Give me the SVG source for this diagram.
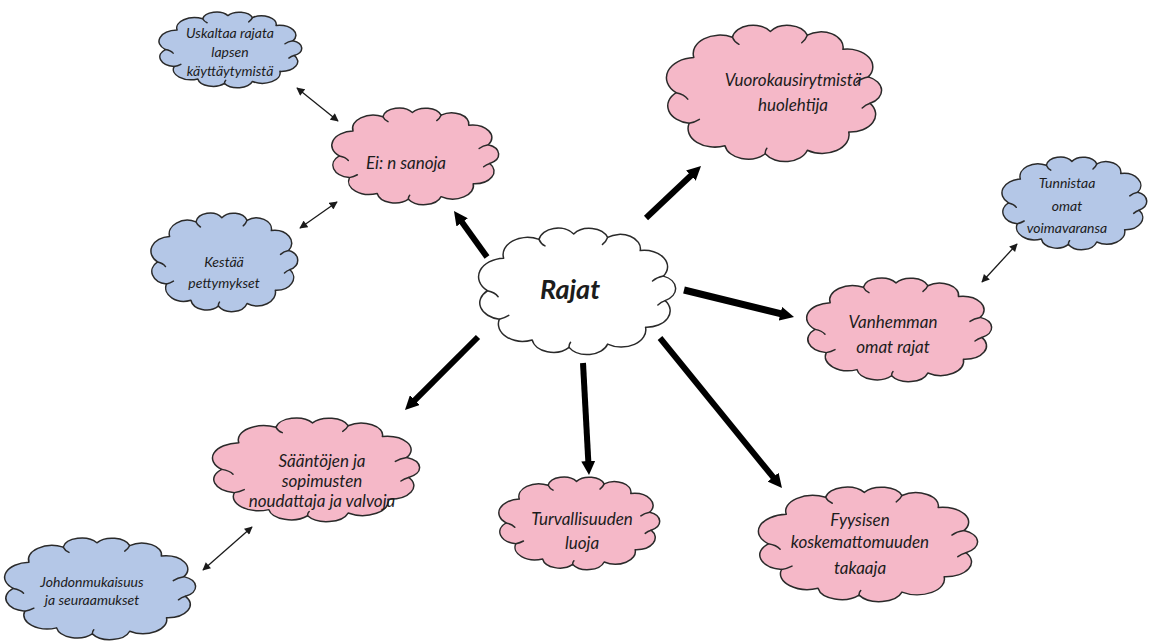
<svg xmlns="http://www.w3.org/2000/svg" xmlns:xlink="http://www.w3.org/1999/xlink" width="1157" height="643" viewBox="0 0 1157 643">
<style>
.cl{stroke:#2a2a2a;stroke-width:1.5;vector-effect:non-scaling-stroke;stroke-linejoin:round}
.curl{fill:none;stroke:#2a2a2a;stroke-width:1.5;vector-effect:non-scaling-stroke;stroke-linecap:round}
.pink{fill:#f5b8c8}
.blue{fill:#b4c7e7}
.white{fill:#ffffff}
text{font-family:Lato,"Open Sans","Liberation Sans",sans-serif;font-style:italic;fill:#1c1c1c;text-anchor:middle}
.s{font-size:14px}
.m{font-size:17px}
.big{font-size:27px;font-weight:bold}
.thick{stroke:#000;stroke-width:6;fill:none;marker-end:url(#ah)}
.thin{stroke:#1a1a1a;stroke-width:1.3;fill:none;marker-start:url(#sh);marker-end:url(#sh)}
</style>
<defs>
<g id="cloud">
<path class="cl" d="M8,52 A12.5,12.5 0 0 1 15.6,30.2 A11.5,11.5 0 0 1 32.2,17.6 A9,9 0 0 1 48.5,14 A9,9 0 0 1 64.4,16.3 A9.5,9.5 0 0 1 79.7,25.1 A11,11 0 0 1 90.6,42.2 A9,9 0 0 1 91.4,58.6 A11,11 0 0 1 82.2,76.4 A11.5,11.5 0 0 1 64.4,87.7 A10,10 0 0 1 46.3,89.9 A10,10 0 0 1 29,84.9 A11.5,11.5 0 0 1 13.6,71 A11,11 0 0 1 8,52 Z"/>
<path class="curl" d="M8,52 Q11.5,53 13,56 M32.2,17.6 Q33,20.5 35,22 M64.4,16.3 Q63.7,19 62,21 M90.6,42.2 Q87.5,43 85.5,45.5 M91.4,58.6 Q89.5,59.5 88,61.5 M46.3,89.9 Q46.2,88 47,86.5 M13.6,71 Q16,70.3 18,68.5"/>
</g>
<marker id="ah" viewBox="0 0 10 10" refX="3" refY="5" markerWidth="14" markerHeight="14" markerUnits="userSpaceOnUse" orient="auto">
<path d="M0,0 L10,5 L0,10 Z" fill="#000"/>
</marker>
<marker id="sh" viewBox="0 0 10 10" refX="9" refY="5" markerWidth="9" markerHeight="8" markerUnits="userSpaceOnUse" orient="auto-start-reverse">
<path d="M0,0 L10,5 L0,10 Z" fill="#1a1a1a"/>
</marker>
</defs>

<g id="connectors">
<line class="thick" x1="487" y1="257" x2="459.7" y2="219"/>
<line class="thick" x1="646" y1="218" x2="693.9" y2="172.7"/>
<line class="thick" x1="684" y1="290" x2="784.5" y2="314.7" style="stroke-width:7"/>
<line class="thick" x1="478" y1="337" x2="411.9" y2="403.1"/>
<line class="thick" x1="583" y1="363" x2="588.5" y2="465.2"/>
<line class="thick" x1="660" y1="338" x2="775.8" y2="480.4"/>
<line class="thin" x1="297" y1="88" x2="338" y2="121"/>
<line class="thin" x1="300" y1="228" x2="337" y2="202"/>
<line class="thin" x1="1017" y1="244" x2="982" y2="282"/>
<line class="thin" x1="203" y1="570" x2="252" y2="527"/>
</g>

<g id="node-uskaltaa">
<use href="#cloud" class="blue" transform="translate(153.05,3.06) scale(1.5435,0.8941)"/>
<text class="s" x="230" y="38">Uskaltaa rajata</text>
<text class="s" x="230" y="57">lapsen</text>
<text class="s" x="230" y="76">käyttäytymistä</text>
</g>

<g id="node-ei">
<use href="#cloud" class="pink" transform="translate(324.88,96.59) scale(1.8043,1.1412)"/>
<text class="m" x="406" y="169">Ei: n sanoja</text>
</g>

<g id="node-kestaa">
<use href="#cloud" class="blue" transform="translate(144.86,201.35) scale(1.587,1.1647)"/>
<text class="s" x="224" y="267">Kestää</text>
<text class="s" x="224" y="288">pettymykset</text>
</g>

<g id="node-rajat">
<use href="#cloud" class="white" transform="translate(470.41,213.06) scale(2.1304,1.4941)"/>
<text class="big" x="570" y="299">Rajat</text>
</g>

<g id="node-vuorokausi">
<use href="#cloud" class="pink" transform="translate(657.53,8.88) scale(2.3261,1.6118)"/>
<text class="m" x="793" y="86">Vuorokausirytmistä</text>
<text class="m" x="793" y="111">huolehtija</text>
</g>

<g id="node-tunnistaa">
<use href="#cloud" class="blue" transform="translate(995.96,146.06) scale(1.5652,1.0941)"/>
<text class="s" x="1067" y="188">Tunnistaa</text>
<text class="s" x="1067" y="211">omat</text>
<text class="s" x="1067" y="233">voimavaransa</text>
</g>

<g id="node-vanhemman">
<use href="#cloud" class="pink" transform="translate(799,265.76) scale(2.0,1.2235)"/>
<text class="m" x="893" y="328">Vanhemman</text>
<text class="m" x="893" y="353">omat rajat</text>
</g>

<g id="node-saannot">
<use href="#cloud" class="pink" transform="translate(203.92,405.76) scale(2.2391,1.2235)"/>
<text class="m" x="322" y="467">Sääntöjen ja</text>
<text class="m" x="322" y="487">sopimusten</text>
<text class="m" x="322" y="507">noudattaja ja valvoja</text>
</g>

<g id="node-johdon">
<use href="#cloud" class="blue" transform="translate(-3.29,526) scale(2.0652,1.2)"/>
<text class="s" x="92" y="587">Johdonmukaisuus</text>
<text class="s" x="92" y="605">ja seuraamukset</text>
</g>

<g id="node-turva">
<use href="#cloud" class="pink" transform="translate(492.17,466.06) scale(1.7391,1.0941)"/>
<text class="m" x="582" y="525">Turvallisuuden</text>
<text class="m" x="582" y="549">luoja</text>
</g>

<g id="node-fyysisen">
<use href="#cloud" class="pink" transform="translate(749.34,473.47) scale(2.3696,1.3529)"/>
<text class="m" x="860" y="526">Fyysisen</text>
<text class="m" x="860" y="548">koskemattomuuden</text>
<text class="m" x="860" y="574">takaaja</text>
</g>
</svg>
